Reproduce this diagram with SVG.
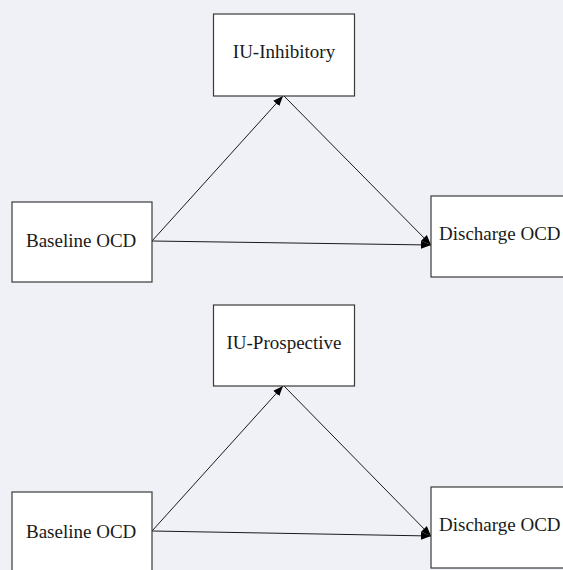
<svg xmlns="http://www.w3.org/2000/svg" width="563" height="570" viewBox="0 0 563 570">
<style>
.box{fill:#ffffff;stroke:#3a3a3a;stroke-width:1.2}
.lbl{font-family:"Liberation Serif","Times New Roman",serif;font-size:19px;fill:#1a1a1a}
.c{text-anchor:middle}
.ln{stroke:#1a1a1a;stroke-width:1;fill:none;marker-end:url(#ah)}
</style>
<defs>
<marker id="ah" viewBox="0 0 10 10" refX="10" refY="5" markerWidth="10" markerHeight="10" markerUnits="userSpaceOnUse" orient="auto">
<path d="M0,1 L10,5 L0,9 Z" fill="#000"/>
</marker>
</defs>
<rect width="563" height="570" fill="#f0f1f7"/>
<g id="connectors">
<line class="ln" x1="152" y1="241" x2="283" y2="96"/>
<line class="ln" x1="284" y1="96" x2="431" y2="245"/>
<line class="ln" x1="152" y1="241" x2="431" y2="245"/>
<line class="ln" x1="152" y1="531" x2="283" y2="386"/>
<line class="ln" x1="284" y1="386" x2="431" y2="536"/>
<line class="ln" x1="152" y1="531" x2="431" y2="536"/>
</g>
<g id="iu-inhibitory">
<rect class="box" x="213.5" y="14" width="141" height="82"/>
<text class="lbl c" x="284" y="58">IU-Inhibitory</text>
</g>
<g id="baseline-ocd-1">
<rect class="box" x="12" y="202" width="140" height="80"/>
<text class="lbl" x="26" y="247">Baseline OCD</text>
</g>
<g id="discharge-ocd-1">
<rect class="box" x="431" y="196" width="142" height="81"/>
<text class="lbl" x="439" y="240">Discharge OCD</text>
</g>
<g id="iu-prospective">
<rect class="box" x="213.5" y="305" width="141" height="81"/>
<text class="lbl c" x="284" y="349">IU-Prospective</text>
</g>
<g id="baseline-ocd-2">
<rect class="box" x="12" y="492" width="140" height="82"/>
<text class="lbl" x="26" y="538">Baseline OCD</text>
</g>
<g id="discharge-ocd-2">
<rect class="box" x="431" y="487" width="142" height="81"/>
<text class="lbl" x="439" y="531">Discharge OCD</text>
</g>
</svg>
